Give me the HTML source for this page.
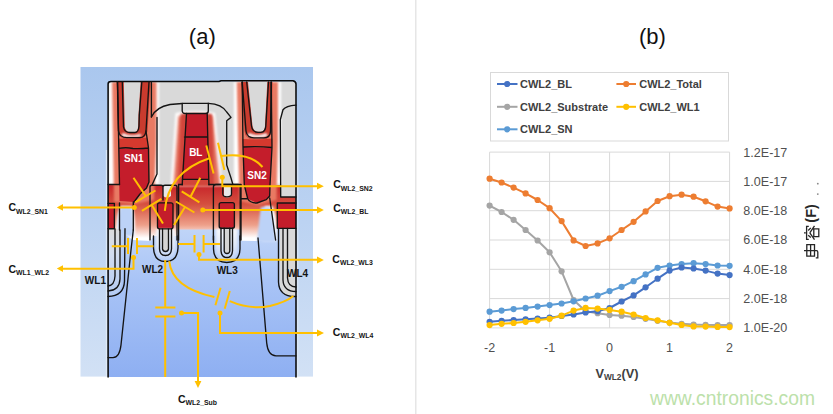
<!DOCTYPE html>
<html><head><meta charset="utf-8"><style>
html,body{margin:0;padding:0;background:#fff;width:833px;height:414px;overflow:hidden}
svg{position:absolute;left:0;top:0;display:block}
</style></head><body>
<svg width="833" height="414" viewBox="0 0 833 414">
<rect x="415" y="0" width="1.5" height="414" fill="#e6e6e6"/>
<text x="202.3" y="44" font-family="Liberation Sans, sans-serif" font-size="22" fill="#111" text-anchor="middle">(a)</text>
<text x="652.5" y="44" font-family="Liberation Sans, sans-serif" font-size="22" fill="#111" text-anchor="middle">(b)</text>
<defs>
  <linearGradient id="blueg" x1="0" y1="228" x2="0" y2="377" gradientUnits="userSpaceOnUse">
    <stop offset="0" stop-color="#c0d5f8"/>
    <stop offset="0.35" stop-color="#a9c4f6"/>
    <stop offset="1" stop-color="#8eaff2"/>
  </linearGradient>
  <linearGradient id="bandg" x1="0" y1="186" x2="0" y2="238" gradientUnits="userSpaceOnUse">
    <stop offset="0" stop-color="#c8262b"/>
    <stop offset="0.35" stop-color="#d5503f"/>
    <stop offset="0.75" stop-color="#eea08a"/>
    <stop offset="1" stop-color="#ffffff"/>
  </linearGradient>
  <linearGradient id="outerblue" x1="0" y1="67" x2="0" y2="377" gradientUnits="userSpaceOnUse">
    <stop offset="0" stop-color="#aac7ee"/>
    <stop offset="0.5" stop-color="#bcd3f2"/>
    <stop offset="1" stop-color="#d2e1f5"/>
  </linearGradient>
  <linearGradient id="wl1g" x1="0" y1="229" x2="0" y2="296" gradientUnits="userSpaceOnUse">
    <stop offset="0" stop-color="#dcdcdc"/>
    <stop offset="0.35" stop-color="#d2dcef"/>
    <stop offset="1" stop-color="#b4cbf3"/>
  </linearGradient>
  <linearGradient id="ug" x1="0" y1="229" x2="0" y2="262" gradientUnits="userSpaceOnUse">
    <stop offset="0" stop-color="#f6f7fa"/>
    <stop offset="0.5" stop-color="#dfe8f8"/>
    <stop offset="1" stop-color="#b9cef6"/>
  </linearGradient>
  <filter id="b3" x="-50%" y="-50%" width="200%" height="200%"><feGaussianBlur stdDeviation="2.5"/></filter>
  <filter id="b2" x="-50%" y="-50%" width="200%" height="200%"><feGaussianBlur stdDeviation="1.6"/></filter>
  <filter id="b1" x="-50%" y="-50%" width="200%" height="200%"><feGaussianBlur stdDeviation="0.9"/></filter>
  <clipPath id="frame"><path d="M108,377 V84 Q108,81.5 111,81.5 H293 Q296,81.5 296,84 V377 Z"/></clipPath>
</defs>
<!-- outer blue -->
<rect x="80.5" y="67" width="232.5" height="309.6" fill="url(#outerblue)"/>
<rect x="105.8" y="150" width="1.6" height="226.6" fill="#e3edf9" opacity="0.8"/>
<rect x="296.8" y="150" width="1.6" height="226.6" fill="#e3edf9" opacity="0.6"/>
<g clip-path="url(#frame)">
  <rect x="108" y="81" width="188" height="296" fill="url(#blueg)"/>
  <!-- gray top -->
  <rect x="108" y="81" width="188" height="106" fill="#d9d9d9"/>
  <!-- band -->
  <path d="M108,185 H296 V228.3 H276 L275,241 L258,241 L241,240.8 L240,229.6 L178,229.6 L177,236 L153,236 L151,241 L133,240 L120,231 L114,229 H108 Z" fill="url(#bandg)"/>
  <!-- white halos -->
  <g filter="url(#b1)" fill="#ffffff">
    <path d="M109,82 H159 V184 H109 Z"/>
    <path d="M175.5,113 Q195,109 215,113 L222.5,186 H170.5 Z"/>
    <path d="M234,82 H281 V184 H234 Z"/>
    <path d="M116,232 Q117,210 121,206 H132 Q135,212 135,236 Z"/>
    <path d="M262,241 Q262,210 265,206 H272 Q277,212 277,241 Z"/>
  </g>
  <!-- light red glows -->
  <g filter="url(#b1)" fill="#e97a63">
    <path d="M112,82 H156.5 L156.5,140 L154,200 L134,204 L114,202 L113,140 Z"/>
    <path d="M236.8,82 H278 L278,140 L276.5,200 L257,205 L239.5,201 L238,140 Z"/>
  </g>
  <path d="M178.5,116 Q195,111 212.5,116 L220,186 L173.5,186 Z" fill="#e26a56" filter="url(#b2)"/>
  <path d="M181,114 H212 L214,186 H178 Z" fill="#d2453a" filter="url(#b1)"/>
  <!-- blue notches -->
  <path d="M118,236 Q118,212 121,207 H131.5 Q133.5,214 133.5,236 Z" fill="#bcd2f7" filter="url(#b1)"/>
  <path d="M257,242 Q260,212 261,207 H270 Q274,220 276,242 Z" fill="#bcd2f7" filter="url(#b1)"/>
  <!-- crimson trench walls -->
  <filter id="b05" x="-50%" y="-50%" width="200%" height="200%"><feGaussianBlur stdDeviation="0.6"/></filter>
  <g fill="#c93a2f" filter="url(#b05)">
    <path d="M116.5,82 H150.5 L147.5,131 Q146,139 138,139.5 H127 Q118.5,139 117.8,131 Z"/>
    <path d="M241,82 H272.5 L271.5,131 Q270.5,139.5 263,139.5 H253 Q245,139 244.5,131 Z"/>
  </g>
  <!-- gray trench interiors -->
  <path d="M123.8,82 L124.8,127 Q125.5,132 130.5,132 H134.5 Q137.8,132 138.2,126 L138.5,115 L140.6,82 Z" fill="#d9d9d9" filter="url(#b05)"/>
  <path d="M248,82 L252.5,126 Q253.3,131.8 258.3,131.8 H260.8 Q264.8,131.5 265,126 L267.3,82 Z" fill="#d9d9d9" filter="url(#b05)"/>
  <!-- white gaps at trench bottoms -->
  <path d="M123,133 Q130,137 140,134 L142,136 Q131,139 121,136 Z" fill="#fff" filter="url(#b1)"/>
  <path d="M249,133 Q258,137 266,133 L268,136 Q258,140 247,136 Z" fill="#fff" filter="url(#b1)"/>
  <!-- solid red blocks -->
  <g fill="#c41d2b">
    <path d="M118.8,148.4 H148.5 L149,182 L146.5,188 L140,194 L134,202 L119.5,201 Z"/>
    <path d="M186.5,113.5 H207.2 L208.9,179.4 H182.2 Z"/>
    <path d="M243,147 L272,147.5 L270,185 L269.7,196 L266.3,199.6 L257,203 L247.7,198.7 L244.3,185 Z"/>
    <path d="M108,203.4 H114.4 V228.7 H108 Z"/>
    <rect x="157.5" y="202.8" width="15.5" height="26" rx="2"/>
    <rect x="219.2" y="202.6" width="15.2" height="25.6" rx="2"/>
    <path d="M296,203 H277.3 V228.3 H296 Z"/>
  </g>
  <!-- lighter red under trench bottoms -->
  <path d="M118.5,138.5 Q133,139.5 147,137.5 L148.5,148.4 H118.8 Z" fill="#d5392e"/>
  <path d="M242.5,139 Q258,140 272.3,138.5 L272,147.5 L243,147 Z" fill="#d5392e"/>
  <!-- gray lower regions (WL1, WL4) -->
  <path d="M108,229 H121 L121.5,284 Q120,296 108,296.5 Z" fill="url(#wl1g)"/>
  <path d="M296,229 H280 L279.5,284 Q281,296.5 296,296.5 Z" fill="#d9d9d9"/>
  <path d="M280.7,184 V197 H296 V184 Z" fill="#d9d9d9"/>
  <g filter="url(#b1)">
    <path d="M156,229 L156,247 Q156.5,259 165.5,259 Q175,259 175.5,247 L175.5,229 Z" fill="url(#ug)"/>
    <path d="M216,229 L216,249 Q216.5,260 226.8,260 Q237,260 237.5,249 L237.5,229 Z" fill="url(#ug)"/>
  </g>
  <path d="M162.5,229 L162.5,249 Q163,251.5 165.5,251.5 Q168,251.5 168.5,249 L168.5,229 Z" fill="#d4d4d4"/>
  <path d="M224.2,229 L224.2,251 Q224.5,253.5 227,253.5 Q229.5,253.5 229.8,251 L229.8,229 Z" fill="#d4d4d4"/>
  <!-- gate spacer white/gray -->
  <path d="M163,186 H171 V196 Q167,199 163,196 Z" fill="#e8e8e8"/>
  <path d="M224,186 H231 V196 Q227.5,199 224,196 Z" fill="#e8e8e8"/>
</g>
<!-- outlines -->
<g fill="none" stroke="#141414" stroke-width="1.35" stroke-linejoin="round" stroke-linecap="round">
  <path d="M108.1,377 V84 Q108.1,81.5 111,81.5 H219 L221,80.8 H293 Q296,81.5 296,84 V377" stroke-width="1.55" stroke="#0a0a0a"/>
  <!-- SN1 trench -->
  <path d="M117.5,82 L118.5,131 Q119.5,137.6 127,137.6 H140 Q145,137.6 146,131 L149,82"/>
  <path d="M122.3,82 L123.5,127 Q124.5,132.5 130,132.5 H135 Q138.5,132.5 139,126 L139.3,115 L141.8,82"/>
  <path d="M151.4,82 V117"/>
  <!-- SN2 trench -->
  <path d="M242.2,82 L246,131 Q247,137.8 254,137.8 H264 Q270.3,137.8 270.5,131 L271.2,82"/>
  <path d="M246.7,82 L251.5,126 Q252.5,132.3 258,132.3 H261 Q265.5,132 265.8,126 L268.5,82"/>
  <!-- BL spacer outline -->
  <path d="M151.4,117 Q156,107 170,104.5 L182.2,103.5 M208.3,103.3 Q222,104 226.7,112 L231,117.4 L226.7,120.7 L226.7,165 L231,178 L233,185"/>
  <path d="M182.2,103.3 V111 Q182.5,113.5 185,113.5 H205.5 Q208.3,113.5 208.3,111 V103.3 H182.2"/>
  <path d="M157,117.4 L157,174 L152,185"/>
  <!-- BL column -->
  <path d="M186.5,113.5 L182.2,184.8 M207.2,113.5 L208.9,184.8 M184.5,137 H207.8 M182.3,179.4 H208.7"/>
  <!-- SN1 block -->
  <path d="M118.8,148.4 Q126,147 133,148.5 Q140,149 148.5,148 M117.5,82 L118.8,148.4 L119.5,184.5 M148.5,148 L149,182 L146.5,188 L140,194 L134,202 M146,131 L148.5,148"/>
  <!-- SN2 block -->
  <path d="M243,147 Q258,146 272,147.5 M242.2,82 L243,147 L244.3,185 L247.7,198.7 Q250,203 257,203 L266.3,199.6 L269.7,196 L270,185 L272,147.5 L271.2,82"/>
  <!-- right gray outline -->
  <path d="M296,105.2 Q286,106 283,109.7 L280.3,119.7 L280.7,197 H296"/>
  <!-- active top lines -->
  <path d="M108,184.5 H119.5 M178.6,184.5 H182.3 M208.9,184.5 H241 M233,185 L241,185"/>
  <path d="M241,185 L241,240 M241,198.7 H247"/>
  <!-- WL1 region -->
  <path d="M108,203.4 H114.4 V228.7 H108"/>
  <path d="M119.5,203 L119.5,230 M133.3,202 L133.3,230"/>
  <!-- WL2 caps -->
  <path d="M150,240 V187 Q150,185.2 152,185.2 H161 Q163,185.2 163,187 V200 M163,200 V187 Q163,185.2 165,185.2 H175 Q177,185.2 177,187 V240"/>
  <rect x="157.5" y="202.8" width="15.5" height="26" rx="2"/>
  <!-- WL3 caps -->
  <path d="M213.4,240 V187 Q213.4,184.5 216,184.5 H238 Q240.2,184.5 240.2,187 V240"/>
  <path d="M222.8,185 V194 Q223,196.8 227,196.8 Q231.5,196.8 231.5,194 V185"/>
  <rect x="219.2" y="202.6" width="15.2" height="25.6" rx="2"/>
  <path d="M178.6,184.5 V240"/>
  <!-- WL4 block -->
  <path d="M296,203 H277.3 V228.3 H296"/>
  <path d="M269.7,198 L275.6,240"/>
  <!-- WL2 nested U -->
  <path d="M153.5,236 L153.5,248 Q154,261.5 165.5,261.5 Q177.5,261.5 178,248 L178,236"/>
  <path d="M159.5,228.8 L159.5,249 Q160,255.5 165.5,255.5 Q171,255.5 171.5,249 L171.5,228.8"/>
  <path d="M162.5,228.8 L162.5,249 Q163,251.5 165.5,251.5 Q168,251.5 168.5,249 L168.5,228.8"/>
  <!-- WL3 nested U -->
  <path d="M213.5,236 L213.5,249 Q214,262.5 226.8,262.5 Q239.5,262.5 240,249 L240,236"/>
  <path d="M221,228.2 L221,251 Q221.5,257.5 227,257.5 Q232,257.5 232.5,251 L232.5,228.2"/>
  <path d="M224.2,228.2 L224.2,251 Q224.5,253.5 227,253.5 Q229.5,253.5 229.8,251 L229.8,228.2"/>
  <!-- WL1 nested -->
  <path d="M108,296.5 Q124,296 124.5,281 L125,228.7"/>
  <path d="M108,291 Q119.5,290.5 120,279 L120,230"/>
  <path d="M108,286 Q114.5,285.5 115,276 L115,229"/>
  <!-- WL4 nested -->
  <path d="M296,296.5 Q279,297 278.5,282 L278.5,228.3"/>
  <path d="M296,291.5 Q283.5,291.5 283,280 L283,228.3"/>
  <path d="M296,287 Q288,287 287.5,278 L287.5,228.3"/>
  <!-- STI diagonals -->
  <path d="M133.3,230 L131,250 L121,345 Q119.5,357.6 113,357.6 H108"/>
  <path d="M258,238 L266.7,343 Q268,355.8 276,355.8 H296"/>
</g>
<!-- labels in device -->
<g font-family="Liberation Sans, sans-serif" font-weight="bold">
  <text x="133.8" y="162" font-size="10" fill="#fff" text-anchor="middle">SN1</text>
  <text x="195.8" y="156.2" font-size="10" fill="#fff" text-anchor="middle">BL</text>
  <text x="257" y="178.6" font-size="10" fill="#fff" text-anchor="middle">SN2</text>
  <text x="152.5" y="272.6" font-size="10" fill="#141414" text-anchor="middle">WL2</text>
  <text x="227.2" y="274.4" font-size="10" fill="#141414" text-anchor="middle">WL3</text>
  <text x="297.6" y="276.7" font-size="10" fill="#141414" text-anchor="middle">WL4</text>
  <text x="95.4" y="284.4" font-size="10" fill="#141414" text-anchor="middle">WL1</text>
</g>
<!-- yellow capacitor network -->
<g fill="none" stroke="#FFC000" stroke-width="2" stroke-linecap="butt">
  <path d="M133.5,177.8 L146,196.4"/>
  <path d="M135.2,202.3 L155.5,190.5"/>
  <path d="M141.9,210.8 L161.4,198.9"/>
  <path d="M151.6,204.8 L163,223.4"/>
  <path d="M175.8,201.5 L194.4,212.5"/>
  <path d="M181.7,191.3 L199.4,202.3"/>
  <path d="M200.3,177.8 L190.5,196.8"/>
  <path d="M185,207 L174,225"/>
  <path d="M164.8,210.8 Q168,172 210,158"/>
  <path d="M206.3,145.4 L213.6,173.5"/>
  <path d="M218,142.7 L224.4,170"/>
  <path d="M221,156 Q250,152 262.5,167"/>
  <path d="M134.3,207.4 H60"/>
  <path d="M202.8,210 H320"/>
  <path d="M222.3,177.2 V186.2 H320"/>
  <path d="M111.8,246.2 H128 M137,246.2 H153.5"/>
  <path d="M128,238 V254 M137,238 V254"/>
  <path d="M133.5,257.6 V268.8 H60"/>
  <path d="M178,244 H194.5 M203.6,244 H220"/>
  <path d="M194.5,235 V252.5 M203.6,235 V252.5"/>
  <path d="M199,254.4 V259.8 H320"/>
  <path d="M165.2,260 V307.4 M155.3,307.4 H175.4 M155.3,316.6 H175.4 M165.2,316.6 V377"/>
  <path d="M181.5,313 H198 V384"/>
  <path d="M169.2,261.2 Q172,288 214.4,297.1"/>
  <path d="M229.8,301.2 Q250,310 270,306 Q286,302 293.4,296"/>
  <path d="M220.6,287.8 L215.4,305.3 M229.8,290.9 L224.7,308.8"/>
  <path d="M220,313 V333 H320"/>
</g>
<g fill="#FFC000">
  <circle cx="134.3" cy="207.4" r="2.5"/>
  <circle cx="202.8" cy="210" r="2.5"/>
  <circle cx="222.3" cy="177.2" r="2.5"/>
  <circle cx="133.5" cy="257.6" r="2.5"/>
  <circle cx="199" cy="254.4" r="2.5"/>
  <circle cx="181.5" cy="313" r="2.5"/>
  <circle cx="220" cy="313" r="2.5"/>
  <path d="M56.8,207.4 L63,204 L63,210.8 Z"/>
  <path d="M56.8,268.6 L63,265.2 L63,272 Z"/>
  <path d="M323.8,186.2 L317,182.8 L317,189.6 Z"/>
  <path d="M323.8,210 L317,206.6 L317,213.4 Z"/>
  <path d="M323.8,260 L317,256.6 L317,263.4 Z"/>
  <path d="M324,333 L317,329.6 L317,336.4 Z"/>
  <path d="M198,388 L194.6,381 L201.4,381 Z"/>
</g>
<g font-family="Liberation Sans, sans-serif" font-weight="bold" fill="#141414">
  <text x="8.5" y="211.2"><tspan font-size="10.5">C</tspan><tspan font-size="6.9" dy="2.6">WL2_SN1</tspan></text>
  <text x="8.5" y="272.7"><tspan font-size="10.5">C</tspan><tspan font-size="6.9" dy="2.6">WL1_WL2</tspan></text>
  <text x="333.2" y="188.4"><tspan font-size="10.5">C</tspan><tspan font-size="6.9" dy="2.6">WL2_SN2</tspan></text>
  <text x="333.2" y="211.5"><tspan font-size="10.5">C</tspan><tspan font-size="6.9" dy="2.6">WL2_BL</tspan></text>
  <text x="332.3" y="262.7"><tspan font-size="10.5">C</tspan><tspan font-size="6.9" dy="2.6">WL2_WL3</tspan></text>
  <text x="332.8" y="335.8"><tspan font-size="10.5">C</tspan><tspan font-size="6.9" dy="2.6">WL2_WL4</tspan></text>
  <text x="178" y="402.5"><tspan font-size="10.5">C</tspan><tspan font-size="6.9" dy="2.6">WL2_Sub</tspan></text>
</g>

<!-- legend -->
<rect x="490.5" y="72.5" width="238" height="68.5" fill="#fff" stroke="#d9d9d9" stroke-width="1"/>
<g stroke-width="2">
  <line x1="497" y1="84" x2="517.5" y2="84" stroke="#4472C4"/><circle cx="507.2" cy="84" r="3.1" fill="#4472C4"/>
  <line x1="497" y1="106.8" x2="517.5" y2="106.8" stroke="#A5A5A5"/><circle cx="507.2" cy="106.8" r="3.1" fill="#A5A5A5"/>
  <line x1="497" y1="129.3" x2="517.5" y2="129.3" stroke="#5B9BD5"/><circle cx="507.2" cy="129.3" r="3.1" fill="#5B9BD5"/>
  <line x1="616.4" y1="84" x2="636" y2="84" stroke="#ED7D31"/><circle cx="626.2" cy="84" r="3.1" fill="#ED7D31"/>
  <line x1="616.4" y1="106.8" x2="636" y2="106.8" stroke="#FFC000"/><circle cx="626.2" cy="106.8" r="3.1" fill="#FFC000"/>
</g>
<g font-family="Liberation Sans, sans-serif" font-size="11" font-weight="bold" fill="#404040">
  <text x="520" y="88">CWL2_BL</text>
  <text x="520" y="110.6">CWL2_Substrate</text>
  <text x="520" y="133.2">CWL2_SN</text>
  <text x="639.2" y="88">CWL2_Total</text>
  <text x="639.2" y="110.6">CWL2_WL1</text>
</g>
<!-- grid -->
<g stroke="#d9d9d9" stroke-width="1">
  <path d="M489.6,152.1 H729.6 M489.6,181.4 H729.6 M489.6,210.7 H729.6 M489.6,240 H729.6 M489.6,269.3 H729.6 M489.6,298.6 H729.6 M489.6,327.9 H729.6"/>
  <path d="M489.6,152.1 V327.9 M549.6,152.1 V327.9 M609.6,152.1 V327.9 M669.6,152.1 V327.9 M729.6,152.1 V327.9"/>
</g>
<polyline points="489.6,205.6 501.6,212.0 513.6,219.8 525.6,230.0 537.6,240.5 549.6,252.3 561.6,271.3 573.6,300.0 585.6,311.2 597.6,313.2 609.6,315.0 621.6,315.7 633.6,317.0 645.6,318.8 657.6,320.8 669.6,322.6 681.6,323.8 693.6,324.6 705.6,324.9 717.6,325.1 729.6,325.1" fill="none" stroke="#A5A5A5" stroke-width="2" stroke-linejoin="round"/>
<g fill="#A5A5A5"><circle cx="489.6" cy="205.6" r="3.1"/><circle cx="501.6" cy="212.0" r="3.1"/><circle cx="513.6" cy="219.8" r="3.1"/><circle cx="525.6" cy="230.0" r="3.1"/><circle cx="537.6" cy="240.5" r="3.1"/><circle cx="549.6" cy="252.3" r="3.1"/><circle cx="561.6" cy="271.3" r="3.1"/><circle cx="573.6" cy="300.0" r="3.1"/><circle cx="585.6" cy="311.2" r="3.1"/><circle cx="597.6" cy="313.2" r="3.1"/><circle cx="609.6" cy="315.0" r="3.1"/><circle cx="621.6" cy="315.7" r="3.1"/><circle cx="633.6" cy="317.0" r="3.1"/><circle cx="645.6" cy="318.8" r="3.1"/><circle cx="657.6" cy="320.8" r="3.1"/><circle cx="669.6" cy="322.6" r="3.1"/><circle cx="681.6" cy="323.8" r="3.1"/><circle cx="693.6" cy="324.6" r="3.1"/><circle cx="705.6" cy="324.9" r="3.1"/><circle cx="717.6" cy="325.1" r="3.1"/><circle cx="729.6" cy="325.1" r="3.1"/></g>
<polyline points="489.6,311.7 501.6,310.6 513.6,309.1 525.6,307.9 537.6,306.6 549.6,305.1 561.6,303.5 573.6,301.3 585.6,298.5 597.6,295.7 609.6,291.1 621.6,286.8 633.6,281.2 645.6,274.4 657.6,267.8 669.6,265.5 681.6,264.0 693.6,263.2 705.6,264.0 717.6,265.5 729.6,265.8" fill="none" stroke="#5B9BD5" stroke-width="2" stroke-linejoin="round"/>
<g fill="#5B9BD5"><circle cx="489.6" cy="311.7" r="3.1"/><circle cx="501.6" cy="310.6" r="3.1"/><circle cx="513.6" cy="309.1" r="3.1"/><circle cx="525.6" cy="307.9" r="3.1"/><circle cx="537.6" cy="306.6" r="3.1"/><circle cx="549.6" cy="305.1" r="3.1"/><circle cx="561.6" cy="303.5" r="3.1"/><circle cx="573.6" cy="301.3" r="3.1"/><circle cx="585.6" cy="298.5" r="3.1"/><circle cx="597.6" cy="295.7" r="3.1"/><circle cx="609.6" cy="291.1" r="3.1"/><circle cx="621.6" cy="286.8" r="3.1"/><circle cx="633.6" cy="281.2" r="3.1"/><circle cx="645.6" cy="274.4" r="3.1"/><circle cx="657.6" cy="267.8" r="3.1"/><circle cx="669.6" cy="265.5" r="3.1"/><circle cx="681.6" cy="264.0" r="3.1"/><circle cx="693.6" cy="263.2" r="3.1"/><circle cx="705.6" cy="264.0" r="3.1"/><circle cx="717.6" cy="265.5" r="3.1"/><circle cx="729.6" cy="265.8" r="3.1"/></g>
<polyline points="489.6,321.8 501.6,320.8 513.6,320.0 525.6,319.3 537.6,318.5 549.6,317.7 561.6,316.0 573.6,314.5 585.6,312.4 597.6,311.2 609.6,308.0 621.6,301.5 633.6,295.4 645.6,287.3 657.6,278.7 669.6,270.6 681.6,267.5 693.6,268.5 705.6,270.6 717.6,273.6 729.6,275.1" fill="none" stroke="#4472C4" stroke-width="2" stroke-linejoin="round"/>
<g fill="#4472C4"><circle cx="489.6" cy="321.8" r="3.1"/><circle cx="501.6" cy="320.8" r="3.1"/><circle cx="513.6" cy="320.0" r="3.1"/><circle cx="525.6" cy="319.3" r="3.1"/><circle cx="537.6" cy="318.5" r="3.1"/><circle cx="549.6" cy="317.7" r="3.1"/><circle cx="561.6" cy="316.0" r="3.1"/><circle cx="573.6" cy="314.5" r="3.1"/><circle cx="585.6" cy="312.4" r="3.1"/><circle cx="597.6" cy="311.2" r="3.1"/><circle cx="609.6" cy="308.0" r="3.1"/><circle cx="621.6" cy="301.5" r="3.1"/><circle cx="633.6" cy="295.4" r="3.1"/><circle cx="645.6" cy="287.3" r="3.1"/><circle cx="657.6" cy="278.7" r="3.1"/><circle cx="669.6" cy="270.6" r="3.1"/><circle cx="681.6" cy="267.5" r="3.1"/><circle cx="693.6" cy="268.5" r="3.1"/><circle cx="705.6" cy="270.6" r="3.1"/><circle cx="717.6" cy="273.6" r="3.1"/><circle cx="729.6" cy="275.1" r="3.1"/></g>
<polyline points="489.6,325.1 501.6,323.8 513.6,323.0 525.6,321.8 537.6,320.3 549.6,318.8 561.6,315.7 573.6,310.6 585.6,307.9 597.6,308.6 609.6,309.9 621.6,311.7 633.6,314.5 645.6,318.0 657.6,320.3 669.6,322.8 681.6,324.9 693.6,326.4 705.6,326.6 717.6,326.9 729.6,327.1" fill="none" stroke="#FFC000" stroke-width="2" stroke-linejoin="round"/>
<g fill="#FFC000"><circle cx="489.6" cy="325.1" r="3.1"/><circle cx="501.6" cy="323.8" r="3.1"/><circle cx="513.6" cy="323.0" r="3.1"/><circle cx="525.6" cy="321.8" r="3.1"/><circle cx="537.6" cy="320.3" r="3.1"/><circle cx="549.6" cy="318.8" r="3.1"/><circle cx="561.6" cy="315.7" r="3.1"/><circle cx="573.6" cy="310.6" r="3.1"/><circle cx="585.6" cy="307.9" r="3.1"/><circle cx="597.6" cy="308.6" r="3.1"/><circle cx="609.6" cy="309.9" r="3.1"/><circle cx="621.6" cy="311.7" r="3.1"/><circle cx="633.6" cy="314.5" r="3.1"/><circle cx="645.6" cy="318.0" r="3.1"/><circle cx="657.6" cy="320.3" r="3.1"/><circle cx="669.6" cy="322.8" r="3.1"/><circle cx="681.6" cy="324.9" r="3.1"/><circle cx="693.6" cy="326.4" r="3.1"/><circle cx="705.6" cy="326.6" r="3.1"/><circle cx="717.6" cy="326.9" r="3.1"/><circle cx="729.6" cy="327.1" r="3.1"/></g>
<polyline points="489.6,178.7 501.6,182.5 513.6,187.6 525.6,193.4 537.6,200.0 549.6,208.2 561.6,221.1 573.6,240.4 585.6,246.0 597.6,243.4 609.6,238.3 621.6,230.0 633.6,221.8 645.6,211.4 657.6,201.0 669.6,196.2 681.6,194.7 693.6,196.7 705.6,201.3 717.6,206.6 729.6,208.4" fill="none" stroke="#ED7D31" stroke-width="2" stroke-linejoin="round"/>
<g fill="#ED7D31"><circle cx="489.6" cy="178.7" r="3.1"/><circle cx="501.6" cy="182.5" r="3.1"/><circle cx="513.6" cy="187.6" r="3.1"/><circle cx="525.6" cy="193.4" r="3.1"/><circle cx="537.6" cy="200.0" r="3.1"/><circle cx="549.6" cy="208.2" r="3.1"/><circle cx="561.6" cy="221.1" r="3.1"/><circle cx="573.6" cy="240.4" r="3.1"/><circle cx="585.6" cy="246.0" r="3.1"/><circle cx="597.6" cy="243.4" r="3.1"/><circle cx="609.6" cy="238.3" r="3.1"/><circle cx="621.6" cy="230.0" r="3.1"/><circle cx="633.6" cy="221.8" r="3.1"/><circle cx="645.6" cy="211.4" r="3.1"/><circle cx="657.6" cy="201.0" r="3.1"/><circle cx="669.6" cy="196.2" r="3.1"/><circle cx="681.6" cy="194.7" r="3.1"/><circle cx="693.6" cy="196.7" r="3.1"/><circle cx="705.6" cy="201.3" r="3.1"/><circle cx="717.6" cy="206.6" r="3.1"/><circle cx="729.6" cy="208.4" r="3.1"/></g>
<g font-family="Liberation Sans, sans-serif" font-size="12.5" fill="#505050">
  <text x="743.3" textLength="44" lengthAdjust="spacingAndGlyphs" y="156.5">1.2E-17</text>
  <text x="743.3" textLength="44" lengthAdjust="spacingAndGlyphs" y="185.8">1.0E-17</text>
  <text x="743.3" textLength="44" lengthAdjust="spacingAndGlyphs" y="215.1">8.0E-18</text>
  <text x="743.3" textLength="44" lengthAdjust="spacingAndGlyphs" y="244.4">6.0E-18</text>
  <text x="743.3" textLength="44" lengthAdjust="spacingAndGlyphs" y="273.7">4.0E-18</text>
  <text x="743.3" textLength="44" lengthAdjust="spacingAndGlyphs" y="303">2.0E-18</text>
  <text x="743.3" textLength="44" lengthAdjust="spacingAndGlyphs" y="332.3">1.0E-20</text>
  <text x="489.6" y="351.6" text-anchor="middle">-2</text>
  <text x="549.6" y="351.6" text-anchor="middle">-1</text>
  <text x="609.6" y="351.6" text-anchor="middle">0</text>
  <text x="669.6" y="351.6" text-anchor="middle">1</text>
  <text x="729.6" y="351.6" text-anchor="middle">2</text>
</g>
<text x="595.4" y="377.5" font-family="Liberation Sans, sans-serif" font-weight="bold" fill="#404040"><tspan font-size="12.8">V</tspan><tspan font-size="8.3" dy="2.5">WL2</tspan><tspan font-size="12.8" dy="-2.5">(V)</tspan></text>
<g transform="translate(804,258.7) rotate(-90)" fill="none" stroke="#262626" stroke-width="1.3">
  <path d="M2.5,2.8 H14 V10.5 H2.5 Z M2.5,6.6 H14 M8,0 V12.6 Q8,13.8 6.5,13.8 H0.8 V11.8"/>
  <path d="M25.8,0 V1.8 M19.3,4.8 V2.6 H32.3 V4.8 M23.5,4.2 L21.2,6.8 M28.2,4.2 L30.8,6.8 M25.8,5.8 L19,10.5 M25.8,5.8 L32.8,10.5 M22,9.8 H29.8 V14.8 H22 Z"/>
</g>
<text transform="translate(804,258.7) rotate(-90)" x="36" y="11.6" font-family="Liberation Sans, sans-serif" font-weight="bold" font-size="14.5" fill="#262626">(F)</text>
<circle cx="817.8" cy="183.7" r="0.9" fill="#888"/>
<circle cx="817.8" cy="194.1" r="0.9" fill="#888"/>

<text x="650" y="404.6" font-family="Liberation Sans, sans-serif" font-size="19.3" fill="#bce1aa">www.cntronics.com</text>
</svg>
</body></html>
